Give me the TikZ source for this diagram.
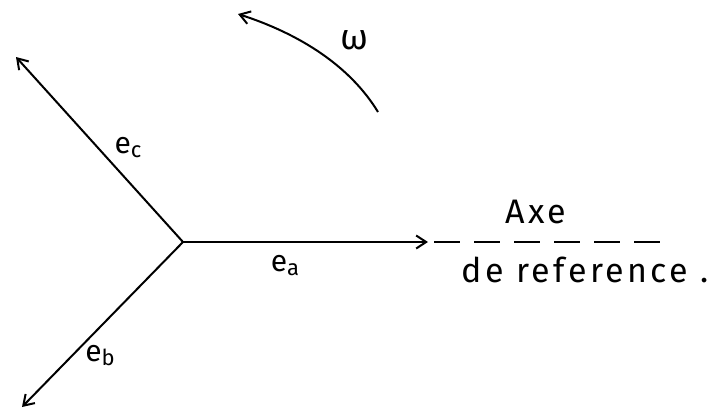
\documentclass[tikz,border=0pt]{standalone}
\usepackage{fontspec}
\setmainfont{Fira Sans}
\usetikzlibrary{arrows.meta}
\newcommand{\sub}[1]{\raisebox{-0.25ex}{\fontsize{22}{24}\selectfont #1}}
\begin{document}
\begin{tikzpicture}[x=1pt,y=-1pt,
  vec/.style={line width=2pt,-{Straight Barb[length=10pt,width=13pt,line width=2pt]}},
  lbl/.style={font=\fontsize{30}{34}\selectfont},
  big/.style={font=\fontsize{34}{38}\selectfont\addfontfeature{LetterSpace=10}}]
\useasboundingbox (0,0) rectangle (718,413);
\coordinate (O) at (183,242);
\coordinate (C) at (16,57);
\coordinate (B) at (22,407);
\coordinate (A) at (428,242);
\coordinate (R) at (670,242);
\coordinate (W1) at (378,112);
\coordinate (W2) at (238,14);
\draw[vec] (O) -- (C);
\draw[vec] (O) -- (B);
\draw[vec] (O) -- (A);
\draw[line width=2pt,dash pattern=on 26pt off 14pt] ([xshift=6pt]A) -- (R);
\draw[vec] (W1) .. controls (350,66) and (300,34) .. (W2);
\node[lbl] (ec) at (128,148) {e\sub{c}};
\node[lbl] (eb) at (100,356) {e\sub{b}};
\node[lbl] (ea) at (285,266) {e\sub{a}};
\node[font=\fontsize{36}{40}\selectfont] (w) at (355,40) {ω};
\node[big] (axe) at (536,212) {Axe};
\node[big,anchor=west] (ref) at (458,270) {de reference .};
\end{tikzpicture}
\end{document}
